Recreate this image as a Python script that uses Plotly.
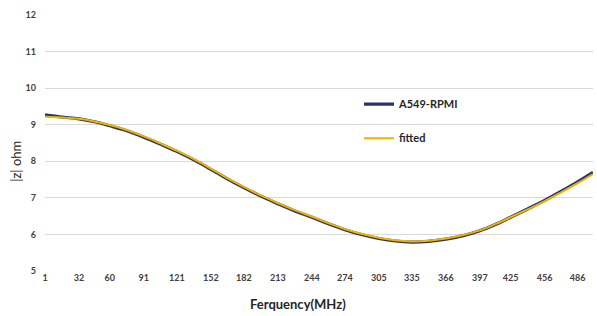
import plotly.graph_objects as go

freq = [1, 16, 32, 46, 60, 75, 91, 106, 121, 137, 152, 167, 182, 198, 213, 228, 244, 259,
        274, 290, 305, 320, 335, 350, 366, 381, 397, 411, 425, 440, 456, 471, 486, 500]
measured = [9.27, 9.21, 9.16, 9.08, 8.97, 8.84, 8.66, 8.47, 8.27, 8.03, 7.78, 7.52, 7.28,
            7.04, 6.84, 6.65, 6.47, 6.29, 6.13, 5.99, 5.89, 5.82, 5.79, 5.81, 5.87, 5.96,
            6.10, 6.27, 6.47, 6.69, 6.93, 7.18, 7.44, 7.70]
fitted = [9.22, 9.20, 9.16, 9.09, 8.99, 8.86, 8.68, 8.49, 8.29, 8.05, 7.80, 7.54, 7.30,
          7.06, 6.86, 6.67, 6.49, 6.31, 6.15, 6.01, 5.91, 5.84, 5.81, 5.83, 5.89, 5.98,
          6.11, 6.28, 6.47, 6.68, 6.91, 7.15, 7.40, 7.65]
tick_vals = [1, 32, 60, 91, 121, 152, 182, 213, 244, 274, 305, 335, 366, 397, 425, 456, 486]
y_ticks = [5, 6, 7, 8, 9, 10, 11, 12]

fig = go.Figure()
fig.add_trace(go.Scatter(x=freq, y=measured, mode="lines", name="A549-RPMI",
                         line=dict(color="#27356b", width=3.2, shape="spline"),
                         legendgroup="a"))
fig.add_trace(go.Scatter(x=freq, y=fitted, mode="lines", name="fitted",
                         line=dict(color="#f0b400", width=2, shape="spline"),
                         legendgroup="b"))

tickfont = dict(family="Lato", size=9, color="#404040", weight="bold")
fig.update_layout(
    width=597, height=316,
    margin=dict(l=45, r=4, t=15, b=45),
    paper_bgcolor="white", plot_bgcolor="white",
    showlegend=True,
    legend=dict(x=(359 - 45) / 548, y=(271 - 90) / 255.5, xanchor="left", yanchor="top",
                font=dict(family="Lato", size=11, color="#262626", weight="bold"),
                itemwidth=30, tracegroupgap=15, bgcolor="rgba(0,0,0,0)"),
    xaxis=dict(range=[1, 500], tickvals=tick_vals, ticktext=[str(v) for v in tick_vals],
               showgrid=False, zeroline=False, showline=False, ticks="",
               tickfont=tickfont),
    yaxis=dict(range=[5, 12], tickvals=y_ticks, showgrid=True, gridcolor="#d9d9d9",
               gridwidth=1, zeroline=False, showline=False, ticks="",
               tickfont=tickfont, ticklabelstandoff=8),
    annotations=[
        dict(text="Ferquency(MHz)", xref="paper", yref="paper", x=(298 - 45) / 548,
             y=(271 - 304) / 255.5, xanchor="center", yanchor="middle", showarrow=False,
             font=dict(family="Lato", size=13, color="#262626", weight="bold")),
        dict(text="|z| ohm", xref="paper", yref="paper", x=(16 - 45) / 548,
             y=(271 - 162) / 255.5, xanchor="center", yanchor="middle", textangle=-90,
             showarrow=False, font=dict(family="Lato", size=13, color="#262626")),
    ],
)
fig.write_html("out.html", config={"displayModeBar": False},
               post_script="document.body.style.margin='0';document.body.style.overflow='hidden';")
